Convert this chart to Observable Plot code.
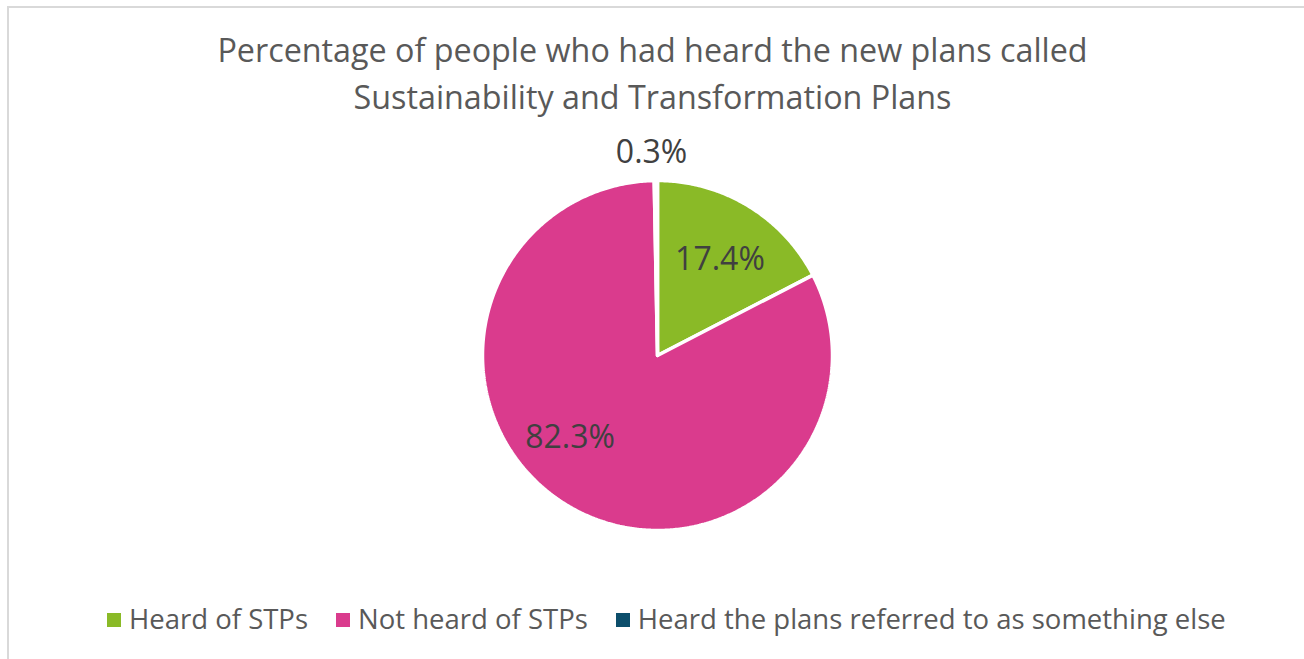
<!DOCTYPE html>
<html><head><meta charset="utf-8">
<script src="https://cdn.jsdelivr.net/npm/d3@7"></script>
<script src="https://cdn.jsdelivr.net/npm/@observablehq/plot@0.6"></script>
<style>
body{margin:0;background:#fff;font-family:"Open Sans",sans-serif;}
#wrap{position:relative;width:1304px;height:659px;overflow:hidden;}
#border{position:absolute;left:7px;top:6px;width:1400px;height:800px;border:2px solid #d9d9d9;box-sizing:border-box;}
#legend{position:absolute;top:600px;left:107px;display:flex;gap:28px;font-size:27.5px;color:#595959;white-space:nowrap;}
#legend span.sw{display:inline-block;width:14px;height:14px;margin-right:8px;vertical-align:middle;position:relative;top:-2px;}
svg{position:absolute;left:0;top:0;}
</style></head>
<body>
<div id="wrap"><div id="border"></div><div id="chart"></div><div id="legend"></div></div>
<script>
const titleLines = ["Percentage of people who had heard the new plans called", "Sustainability and Transformation Plans"];
const categories = ["Heard of STPs", "Not heard of STPs", "Heard the plans referred to as something else"];
const values = [17.4, 82.3, 0.3];
const labels = ["17.4%", "82.3%", "0.3%"];
const colors = ["#8aba27", "#da3b8d", "#0c4e6b"];

const pie = d3.pie().sort(null).value(d => d.value)(categories.map((c, i) => ({category: c, value: values[i]})));
const poly = [];
pie.forEach(s => {
  poly.push({category: s.data.category, x: 0, y: 0});
  const n = Math.max(2, Math.ceil((s.endAngle - s.startAngle) / 0.01));
  for (let k = 0; k <= n; k++) {
    const a = s.startAngle + (s.endAngle - s.startAngle) * k / n;
    poly.push({category: s.data.category, x: Math.sin(a), y: Math.cos(a)});
  }
  poly.push({category: s.data.category, x: 0, y: 0});
});
const lab = pie.map((s, i) => {
  const a = (s.startAngle + s.endAngle) / 2;
  const r = values[i] < 2 ? 1.16 : 0.72;
  return {label: labels[i], x: Math.sin(a) * r, y: Math.cos(a) * r};
});
// Excel "best fit" nudges
const nudges = [[-3, 12], [-23, -26], [-4, 0]];

const R = 175, cx = 657, cy = 355, W = 1304, H = 659;
const chart = Plot.plot({
  width: W, height: H, margin: 0,
  x: {domain: [-cx / R, (W - cx) / R], axis: null},
  y: {domain: [-(H - cy) / R, cy / R], axis: null},
  color: {domain: categories, range: colors},
  marks: [
    Plot.line(poly, {x: "x", y: "y", z: "category", fill: "category", stroke: "white", strokeWidth: 3.5, strokeLinejoin: "miter", curve: "linear"}),
    ...lab.map((l, i) => Plot.text([l], {x: "x", y: "y", text: "label", dx: nudges[i][0], dy: nudges[i][1], fontSize: 32, fill: "#404040", fontFamily: "Open Sans"})),
    Plot.text([titleLines[0]], {frameAnchor: "top", dy: 39, text: d => d, fontSize: 32.3, fill: "#595959", fontFamily: "Open Sans"}),
    Plot.text([titleLines[1]], {frameAnchor: "top", dy: 86, text: d => d, fontSize: 32.3, fill: "#595959", fontFamily: "Open Sans"})
  ]
});
document.getElementById("chart").appendChild(chart);
const lg = document.getElementById("legend");
categories.forEach((c, i) => {
  const d = document.createElement("div");
  d.innerHTML = `<span class="sw" style="background:${colors[i]}"></span>${c}`;
  lg.appendChild(d);
});
</script>
</body></html>
